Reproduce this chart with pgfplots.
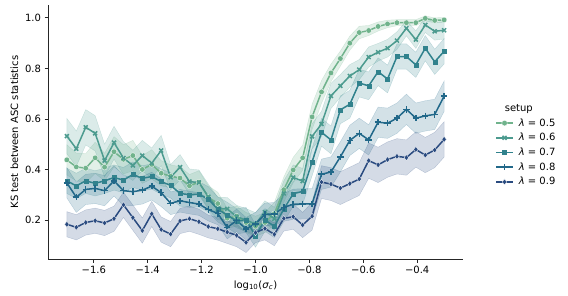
\documentclass[border=0pt]{standalone}
\usepackage{fontspec}
\setmainfont{DejaVu Sans}
\usepackage{pgfplots}
\pgfplotsset{compat=1.18}
\usepackage{pgfplotstable}
\usepgfplotslibrary{fillbetween}

\definecolor{cA}{RGB}{112,179,140}
\definecolor{cB}{RGB}{76,155,143}
\definecolor{cC}{RGB}{49,130,141}
\definecolor{cD}{RGB}{33,104,137}
\definecolor{cE}{RGB}{42,75,128}

% x, mean, half-width of the band
\pgfplotstableread{
x y e
-1.700 0.438 0.060
-1.665 0.410 0.055
-1.630 0.405 0.058
-1.595 0.446 0.062
-1.560 0.409 0.055
-1.525 0.470 0.060
-1.490 0.440 0.058
-1.455 0.455 0.060
-1.420 0.400 0.055
-1.385 0.420 0.058
-1.350 0.385 0.050
-1.315 0.373 0.045
-1.280 0.366 0.045
-1.245 0.335 0.045
-1.210 0.350 0.045
-1.175 0.290 0.045
-1.140 0.265 0.045
-1.105 0.207 0.040
-1.070 0.215 0.040
-1.035 0.190 0.040
-1.000 0.175 0.040
-0.965 0.190 0.040
-0.930 0.225 0.045
-0.895 0.320 0.050
-0.860 0.398 0.050
-0.825 0.446 0.050
-0.790 0.608 0.050
-0.755 0.707 0.045
-0.720 0.782 0.035
-0.685 0.839 0.030
-0.650 0.900 0.028
-0.615 0.942 0.025
-0.580 0.950 0.020
-0.545 0.966 0.018
-0.510 0.976 0.015
-0.475 0.981 0.012
-0.440 0.981 0.012
-0.405 0.981 0.012
-0.370 0.998 0.010
-0.335 0.990 0.010
-0.300 0.992 0.010
}\tA
\pgfplotstableread{
x y e
-1.700 0.532 0.070
-1.665 0.482 0.070
-1.630 0.567 0.070
-1.595 0.543 0.070
-1.560 0.435 0.065
-1.525 0.506 0.065
-1.490 0.445 0.065
-1.455 0.416 0.060
-1.420 0.455 0.060
-1.385 0.425 0.060
-1.350 0.475 0.060
-1.315 0.369 0.050
-1.280 0.409 0.050
-1.245 0.352 0.050
-1.210 0.348 0.050
-1.175 0.292 0.050
-1.140 0.245 0.045
-1.105 0.244 0.045
-1.070 0.213 0.045
-1.035 0.200 0.045
-1.000 0.184 0.045
-0.965 0.231 0.045
-0.930 0.205 0.045
-0.895 0.305 0.050
-0.860 0.368 0.050
-0.825 0.354 0.050
-0.790 0.531 0.050
-0.755 0.580 0.050
-0.720 0.691 0.050
-0.685 0.731 0.045
-0.650 0.770 0.045
-0.615 0.795 0.040
-0.580 0.845 0.040
-0.545 0.864 0.035
-0.510 0.880 0.035
-0.475 0.910 0.035
-0.440 0.959 0.030
-0.405 0.914 0.035
-0.370 0.972 0.030
-0.335 0.947 0.035
-0.300 0.951 0.035
}\tB
\pgfplotstableread{
x y e
-1.700 0.355 0.050
-1.665 0.335 0.050
-1.630 0.355 0.050
-1.595 0.345 0.050
-1.560 0.355 0.050
-1.525 0.368 0.050
-1.490 0.358 0.050
-1.455 0.380 0.050
-1.420 0.365 0.050
-1.385 0.372 0.050
-1.350 0.352 0.050
-1.315 0.337 0.050
-1.280 0.305 0.050
-1.245 0.300 0.050
-1.210 0.302 0.050
-1.175 0.282 0.050
-1.140 0.242 0.050
-1.105 0.220 0.050
-1.070 0.195 0.050
-1.035 0.200 0.050
-1.000 0.137 0.045
-0.965 0.200 0.045
-0.930 0.175 0.045
-0.895 0.243 0.050
-0.860 0.304 0.050
-0.825 0.313 0.050
-0.790 0.430 0.055
-0.755 0.547 0.055
-0.720 0.517 0.055
-0.685 0.636 0.055
-0.650 0.658 0.055
-0.615 0.742 0.055
-0.580 0.731 0.055
-0.545 0.787 0.055
-0.510 0.758 0.055
-0.475 0.847 0.050
-0.440 0.847 0.050
-0.405 0.814 0.050
-0.370 0.880 0.050
-0.335 0.826 0.050
-0.300 0.868 0.050
}\tC
\pgfplotstableread{
x y e
-1.700 0.347 0.060
-1.665 0.290 0.060
-1.630 0.321 0.060
-1.595 0.325 0.060
-1.560 0.316 0.060
-1.525 0.355 0.060
-1.490 0.316 0.060
-1.455 0.312 0.055
-1.420 0.318 0.055
-1.385 0.334 0.055
-1.350 0.308 0.055
-1.315 0.266 0.045
-1.280 0.276 0.045
-1.245 0.269 0.045
-1.210 0.263 0.045
-1.175 0.241 0.045
-1.140 0.226 0.045
-1.105 0.170 0.045
-1.070 0.198 0.045
-1.035 0.165 0.045
-1.000 0.185 0.045
-0.965 0.222 0.045
-0.930 0.224 0.045
-0.895 0.250 0.055
-0.860 0.262 0.060
-0.825 0.264 0.060
-0.790 0.264 0.060
-0.755 0.381 0.060
-0.720 0.390 0.060
-0.685 0.450 0.060
-0.650 0.515 0.060
-0.615 0.543 0.060
-0.580 0.517 0.060
-0.545 0.587 0.060
-0.510 0.583 0.060
-0.475 0.603 0.060
-0.440 0.638 0.060
-0.405 0.603 0.060
-0.370 0.612 0.060
-0.335 0.618 0.060
-0.300 0.690 0.060
}\tD
\pgfplotstableread{
x y e
-1.700 0.183 0.050
-1.665 0.171 0.050
-1.630 0.190 0.050
-1.595 0.197 0.050
-1.560 0.188 0.050
-1.525 0.205 0.050
-1.490 0.260 0.050
-1.455 0.209 0.050
-1.420 0.158 0.050
-1.385 0.224 0.050
-1.350 0.162 0.050
-1.315 0.144 0.050
-1.280 0.196 0.050
-1.245 0.205 0.050
-1.210 0.193 0.050
-1.175 0.174 0.045
-1.140 0.165 0.045
-1.105 0.152 0.045
-1.070 0.139 0.045
-1.035 0.111 0.040
-1.000 0.150 0.040
-0.965 0.166 0.045
-0.930 0.143 0.045
-0.895 0.206 0.050
-0.860 0.213 0.050
-0.825 0.180 0.050
-0.790 0.215 0.055
-0.755 0.350 0.065
-0.720 0.342 0.065
-0.685 0.326 0.065
-0.650 0.344 0.065
-0.615 0.362 0.065
-0.580 0.435 0.070
-0.545 0.418 0.070
-0.510 0.439 0.070
-0.475 0.452 0.070
-0.440 0.447 0.070
-0.405 0.479 0.070
-0.370 0.457 0.070
-0.335 0.477 0.070
-0.300 0.519 0.070
}\tE

\begin{document}
\begin{tikzpicture}
\begin{axis}[
  scale only axis,
  width=415pt, height=254pt,
  xmin=-1.77, xmax=-0.23,
  ymin=0.0455, ymax=1.051,
  axis lines*=left,
  axis line style={line width=0.8pt, black!85},
  tick style={line width=0.8pt, black!85},
  tick align=outside,
  major tick length=3.5pt,
  xtick={-1.6,-1.4,-1.2,-1.0,-0.8,-0.6,-0.4},
  xticklabels={−1.6,−1.4,−1.2,−1.0,−0.8,−0.6,−0.4},
  ytick={0.2,0.4,0.6,0.8,1.0},
  yticklabels={0.2,0.4,0.6,0.8,1.0},
  ticklabel style={font=\fontsize{10}{12}\selectfont},
  label style={font=\fontsize{10}{12}\selectfont},
  xlabel={log\textsubscript{10}(\textit{σ}\textsubscript{\textit{c}})},
  ylabel={KS test between ASC statistics},
  legend style={draw=none, fill=none, at={(1.07,0.625)}, anchor=north west,
    font=\fontsize{10}{12}\selectfont, row sep=1.6pt,
    nodes={inner xsep=5pt}},
  legend cell align=left,
]
\addplot[name path=uA, draw=none, forget plot] table[x=x, y expr=\thisrow{y}+\thisrow{e}] {\tA};
\addplot[name path=lA, draw=none, forget plot] table[x=x, y expr=\thisrow{y}-\thisrow{e}] {\tA};
\addplot[fill=cA, fill opacity=0.2, draw=cA, draw opacity=0.25, forget plot] fill between[of=uA and lA];
\addplot[name path=uB, draw=none, forget plot] table[x=x, y expr=\thisrow{y}+\thisrow{e}] {\tB};
\addplot[name path=lB, draw=none, forget plot] table[x=x, y expr=\thisrow{y}-\thisrow{e}] {\tB};
\addplot[fill=cB, fill opacity=0.2, draw=cB, draw opacity=0.25, forget plot] fill between[of=uB and lB];
\addplot[name path=uC, draw=none, forget plot] table[x=x, y expr=\thisrow{y}+\thisrow{e}] {\tC};
\addplot[name path=lC, draw=none, forget plot] table[x=x, y expr=\thisrow{y}-\thisrow{e}] {\tC};
\addplot[fill=cC, fill opacity=0.2, draw=cC, draw opacity=0.25, forget plot] fill between[of=uC and lC];
\addplot[name path=uD, draw=none, forget plot] table[x=x, y expr=\thisrow{y}+\thisrow{e}] {\tD};
\addplot[name path=lD, draw=none, forget plot] table[x=x, y expr=\thisrow{y}-\thisrow{e}] {\tD};
\addplot[fill=cD, fill opacity=0.2, draw=cD, draw opacity=0.25, forget plot] fill between[of=uD and lD];
\addplot[name path=uE, draw=none, forget plot] table[x=x, y expr=\thisrow{y}+\thisrow{e}] {\tE};
\addplot[name path=lE, draw=none, forget plot] table[x=x, y expr=\thisrow{y}-\thisrow{e}] {\tE};
\addplot[fill=cE, fill opacity=0.2, draw=cE, draw opacity=0.25, forget plot] fill between[of=uE and lE];
\addplot[cA, line width=1.5pt, mark=*, mark size=2.8pt, mark options={solid, fill=cA, draw=white, line width=0.3pt}, forget plot] table[x=x,y=y] {\tA};
\addplot[cB, line width=1.5pt, mark=x, mark size=2.8pt, mark options={solid, draw=cB, line width=1.5pt}, forget plot] table[x=x,y=y] {\tB};
\addplot[cC, line width=1.5pt, mark=square*, mark size=2.0pt, mark options={solid, fill=cC, draw=cC, line width=0.2pt}, forget plot] table[x=x,y=y] {\tC};
\addplot[cD, line width=1.5pt, mark=+, mark size=3.2pt, mark options={solid, draw=cD, line width=1.5pt}, forget plot] table[x=x,y=y] {\tD};
\addplot[cE, line width=1.5pt, mark=diamond*, mark size=3.0pt, mark options={solid, fill=cE, draw=white, line width=0.3pt}, forget plot] table[x=x,y=y] {\tE};
\addlegendimage{empty legend}
\addlegendentry{\hspace{-14pt}setup}
\addlegendimage{cA, line width=1.5pt, mark=*, mark size=2.8pt, mark options={solid, fill=cA, draw=white, line width=0.3pt}}
\addlegendentry{\textit{λ} = 0.5}
\addlegendimage{cB, line width=1.5pt, mark=x, mark size=2.8pt, mark options={solid, draw=cB, line width=1.5pt}}
\addlegendentry{\textit{λ} = 0.6}
\addlegendimage{cC, line width=1.5pt, mark=square*, mark size=2.0pt, mark options={solid, fill=cC, draw=cC, line width=0.2pt}}
\addlegendentry{\textit{λ} = 0.7}
\addlegendimage{cD, line width=1.5pt, mark=+, mark size=3.2pt, mark options={solid, draw=cD, line width=1.5pt}}
\addlegendentry{\textit{λ} = 0.8}
\addlegendimage{cE, line width=1.5pt, mark=diamond*, mark size=3.0pt, mark options={solid, fill=cE, draw=white, line width=0.3pt}}
\addlegendentry{\textit{λ} = 0.9}
\end{axis}
\pgfresetboundingbox
\path[use as bounding box] (-48pt,-36pt) rectangle (520pt,259pt);
\end{tikzpicture}
\end{document}
